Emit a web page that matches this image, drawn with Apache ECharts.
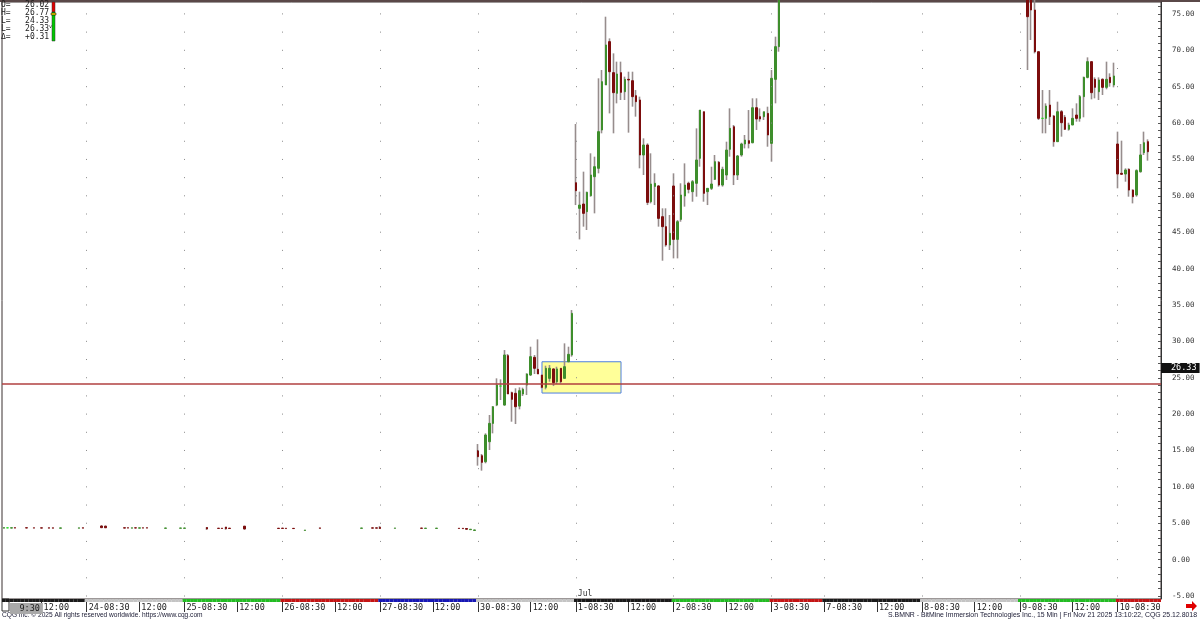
<!DOCTYPE html>
<html><head><meta charset="utf-8">
<script src="https://cdn.jsdelivr.net/npm/echarts@6/dist/echarts.min.js"></script>
<style>html,body{margin:0;padding:0;background:#fff}#c{width:1200px;height:623px}</style>
</head><body><div id="c"></div>
<script>
// ---------- DATA ----------
const dayNames = ['23','24','25','26','27','30','1','2','3','7','8','9','10'];
const dayOpenTimes = ['09:30','08:30','08:30','08:30','08:30','08:30','08:30','08:30','08:30','08:30','08:30','08:30','08:30'];
const dayBandColors = ['#1a1a1a','#c4c4c4','#22bb22','#c41414','#1616b4','#c4c4c4','#1a1a1a','#22bb22','#c41414','#1a1a1a','#c4c4c4','#22bb22','#c41414'];
const noonTime = '12:00';
const monthMark = { day: '1', text: 'Jul' };
const priceTicks = [-5,0,5,10,15,20,25,30,35,40,45,50,55,60,65,70,75];
const priceMin = -5.41, priceMax = 76.65;
const lastPrice = 26.33;
const refLinePrice = 24.2;
const boxFrom = ['30 12:45', 27.2];
const boxTo = ['1 11:30', 22.9];
const trailingSlots = 3;
const legendLines = ['O=   26.02','H=   26.77','L=   24.33','L=   26.33','\u0394=   +0.31'];

// bars: [open, close, low, high]  (null = no trade / off-scale)
const bars23 = [[4.33,4.40,4.32,4.41],[4.37,4.37,4.34,4.40],[4.34,4.38,4.33,4.39],[4.39,4.34,4.33,4.40],[4.36,4.36,4.36,4.36],[4.36,4.36,4.36,4.36],[4.38,4.35,4.34,4.38],[4.36,4.36,4.36,4.36],[4.37,4.34,4.33,4.37],[4.35,4.35,4.35,4.35],[4.37,4.34,4.34,4.38],[4.35,4.35,4.35,4.35],[4.38,4.33,4.32,4.38],[4.37,4.33,4.32,4.38],[4.34,4.34,4.34,4.34],[4.32,4.36,4.32,4.37],[4.35,4.35,4.35,4.35],[4.35,4.35,4.35,4.35],[4.34,4.34,4.34,4.34],[4.34,4.34,4.34,4.34],[4.32,4.37,4.32,4.37],[4.38,4.33,4.33,4.39]];
const bars24 = [[4.35,4.35,4.35,4.35],[4.35,4.35,4.35,4.35],[4.34,4.34,4.34,4.34],null,[4.62,4.40,4.33,4.72],[4.60,4.38,4.35,4.68],null,[4.35,4.35,4.35,4.35],null,null,[4.38,4.34,4.33,4.38],[4.38,4.34,4.34,4.39],[4.33,4.37,4.33,4.38],[4.37,4.35,4.34,4.37],[4.33,4.37,4.32,4.37],[4.37,4.34,4.34,4.38],[4.38,4.34,4.33,4.38],null,[4.35,4.35,4.35,4.35],null,[4.33,4.33,4.33,4.33],[4.31,4.35,4.31,4.36],[4.33,4.33,4.33,4.33],[4.33,4.33,4.33,4.33],[4.33,4.33,4.33,4.33],[4.32,4.35,4.32,4.35]];
const bars25 = [[4.31,4.35,4.31,4.36],null,null,[4.33,4.33,4.33,4.33],null,null,[4.42,4.22,4.10,4.45],null,[4.30,4.30,4.30,4.30],[4.32,4.29,4.28,4.33],[4.33,4.28,4.27,4.33],[4.48,4.25,4.12,4.50],[4.33,4.28,4.27,4.34],null,null,null,[4.60,4.22,4.12,4.64],null,null,null,[4.32,4.32,4.32,4.32],null,[4.32,4.32,4.32,4.32],null,null,[4.32,4.28,4.27,4.33]];
const bars26 = [[4.33,4.29,4.28,4.34],[4.32,4.27,4.26,4.32],[4.28,4.28,4.28,4.28],[4.30,4.27,4.26,4.30],[4.00,4.00,4.00,4.00],null,[4.02,4.07,4.01,4.08],null,null,[4.30,4.30,4.30,4.30],[4.36,4.31,4.30,4.38],[4.33,4.33,4.33,4.33],[4.38,4.38,4.38,4.38],[4.33,4.33,4.33,4.33],[4.33,4.33,4.33,4.33],[4.33,4.33,4.33,4.33],null,null,[4.33,4.33,4.33,4.33],null,[4.33,4.33,4.33,4.33],[4.31,4.35,4.31,4.35],[4.33,4.33,4.33,4.33],null,[4.37,4.33,4.32,4.38],[4.37,4.33,4.32,4.37]];
const bars27 = [[4.45,4.28,4.22,4.60],[4.33,4.33,4.33,4.33],[4.33,4.33,4.33,4.33],[4.34,4.34,4.34,4.34],[4.31,4.35,4.31,4.36],[4.33,4.33,4.33,4.33],[4.33,4.33,4.33,4.33],[4.34,4.34,4.34,4.34],[4.33,4.33,4.33,4.33],null,[4.32,4.32,4.32,4.32],[4.34,4.31,4.30,4.34],[4.29,4.33,4.29,4.33],null,[4.31,4.31,4.31,4.31],[4.29,4.33,4.29,4.34],null,null,[4.31,4.31,4.31,4.31],[4.31,4.31,4.31,4.31],[4.30,4.30,4.30,4.30],[4.32,4.28,4.27,4.32],[4.31,4.26,4.25,4.31],[4.28,4.18,4.12,4.30],[4.12,4.18,4.10,4.19],[4.02,4.08,3.95,4.10]];
const bars30 = [[15.0,14.15,12.92,15.89],[14.29,13.37,12.23,14.52],[13.46,17.13,13.24,17.36],[16.21,18.73,15.07,19.88],[18.73,21.02,17.36,21.1],[21.25,24.0,21.1,24.92],[23.86,23.86,21.94,24.78],[21.25,28.13,21.16,28.81],[28.04,22.77,22.77,28.27],[22.95,22.03,18.96,23.09],[22.86,21.02,18.64,23.55],[21.11,23.22,20.66,23.68],[22.77,23.41,22.49,23.64],[24.0,25.52,22.63,25.61],[25.38,27.9,25.25,29.27],[27.81,26.3,25.52,28.13],[26.16,25.52,25.52,30.28],[25.38,23.68,23.55,25.38],[23.68,26.3,23.41,26.66],[24.92,26.3,24.46,26.75],[26.21,24.33,23.86,26.3],[24.46,26.21,24.14,26.52],[26.3,24.46,24.23,26.3],[24.92,26.52,24.92,29.73],[27.21,28.22,27.12,29.27],[28.13,33.85,27.9,34.31]];
const bars01 = [[51.81,50.71,48.74,59.88],[48.29,48.74,44.02,50.58],[48.88,47.6,45.77,53.33],[47.83,50.49,45.31,50.58],[50.03,52.87,49.89,55.85],[52.64,54.01,47.6,55.39],[53.79,58.83,53.1,66.16],[59.06,65.7,58.6,67.3],[65.24,70.74,65.24,74.63],[71.2,67.07,61.34,71.65],[66.94,64.19,58.6,69.59],[64.1,66.75,62.72,68.45],[66.94,64.23,63.18,68.45],[64.32,66.02,63.18,66.39],[66.02,65.93,58.69,67.07],[65.83,63.64,62.26,67.07],[63.77,62.95,60.89,64.55],[63.18,55.62,53.79,63.64],[55.62,56.99,52.87,57.91],[56.99,49.11,48.74,57.22],[49.2,51.63,48.97,55.85],[51.3,51.73,48.74,53.1],[51.36,46.91,45.77,51.49],[47.14,45.77,41.09,48.29],[45.77,43.25,43.02,48.29],[43.25,44.85,42.56,47.37]];
const bars02 = [[51.36,44.02,41.41,53.1],[44.02,46.45,41.41,46.68],[46.77,50.12,46.45,51.73],[49.98,51.49,48.52,54.47],[51.73,50.9,50.35,51.95],[50.58,51.95,49.2,52.18],[51.73,54.93,49.89,59.28],[55.16,61.8,54.01,61.8],[61.57,50.35,49.2,61.57],[50.58,51.04,48.74,51.04],[51.04,51.63,50.81,54.01],[52.27,54.7,52.18,55.62],[54.61,51.49,51.27,54.79],[51.49,53.65,51.27,54.01],[52.87,56.3,52.18,57.45],[56.4,59.28,55.39,62.03],[59.51,52.87,51.49,59.74],[52.87,55.48,52.18,55.62],[55.62,57.13,55.39,57.31],[57.13,57.68,56.53,58.37],[57.59,57.22,56.53,61.8],[57.31,62.12,57.22,63.41],[62.12,60.57,59.06,63.41],[60.89,60.57,60.2,62.03],[60.89,61.57,60.43,61.57],[61.34,58.37,56.76,62.26]];
const bars03 = [[57.22,66.16,54.7,67.3],[66.02,70.51,62.72,71.88],[70.51,84.0,69.82,88.0],null,null,null,null,null,null,null,null,null,null,null];
const bars07 = [null,null,null,null,null,null,null,null,null,null,null,null,null,null,null,null,null,null,null,null,null,null,null,null,null,null];
const bars08 = [null,null,null,null,null,null,null,null,null,null,null,null,null,null,null,null,null,null,null,null,null,null,null,null,null,null];
const bars09 = [null,null,[78.5,74.63,67.3,80.0],[77.5,75.55,71.43,78.5],[75.55,69.82,69.59,77.2],[69.82,60.66,60.43,69.82],[60.66,60.66,58.6,64.55],[60.66,62.35,58.6,62.72],[62.49,60.89,59.74,64.55],[60.98,57.45,56.76,61.11],[57.45,61.57,57.45,62.95],[61.57,60.06,58.14,61.8],[60.8,59.15,59.06,61.11],[59.15,59.74,58.97,60.06],[59.74,60.66,59.74,62.03],[61.11,60.66,60.2,62.72],[60.66,63.64,60.2,63.87],[63.64,66.29,60.8,66.39],[66.29,68.45,66.16,69.04],[68.45,64.19,63.27,68.45],[66.02,64.92,63.41,66.29],[64.32,65.93,63.18,66.29],[66.02,64.92,63.87,66.16],[64.92,66.02,64.65,68.45],[66.29,65.56,65.01,66.84],[65.24,66.48,64.92,68.31]];
const bars10 = [[57.13,53.01,51.04,58.83],[53.1,52.97,52.9,57.59],[53.01,53.56,51.95,53.79],[53.65,50.8,49.89,53.79],[50.8,49.89,48.97,50.9],[50.12,53.47,49.89,53.65],[53.33,55.62,53.19,57.13],[55.94,57.31,55.62,58.83],[57.45,56.07,54.84,57.77]];
const dayBars = [bars23,bars24,bars25,bars26,bars27,bars30,bars01,bars02,bars03,bars07,bars08,bars09,bars10];

// ---------- BUILD ----------
function hm(t){const h=Math.floor(t/60),m=t%60;return (h<10?'0':'')+h+':'+(m<10?'0':'')+m;}
const cats=[], bars=[], bandColor=[], labelAt={}, dayStartCats=[];
let monthIdx=-1;
dayNames.forEach((d,k)=>{
  const p=dayOpenTimes[k].split(':'); const start=(+p[0])*60+(+p[1]);
  dayBars[k].forEach((b,j)=>{
    const t=start+15*j, idx=cats.length, name=d+' '+hm(t);
    cats.push(name); bars.push(b); bandColor.push(dayBandColors[k]);
    if(j===0){ labelAt[idx]= k===0 ? 'FIRST' : d+'-08:30'; if(k>0) dayStartCats.push(name); if(d===monthMark.day) monthIdx=idx; }
    else if(hm(t)===noonTime){ labelAt[idx]=noonTime; }
  });
});
for(let e=0;e<trailingSlots;e++){cats.push('~'+e); bars.push(null); bandColor.push(dayBandColors[dayBandColors.length-1]);}

const wickData = bars.map(b=> b? b.slice() : ['-','-','-','-']);
const bodyData = bars.map(b=>{
  if(!b) return ['-','-','-','-'];
  if(b[0]===b[1] && b[2]===b[3] && b[0]===b[2]) return ['-','-','-','-'];
  return [b[0],b[1],Math.min(b[0],b[1]),Math.max(b[0],b[1])];
});
const minorTicks=[]; for(let v=Math.ceil(priceMin); v<=priceMax; v+=1) minorTicks.push(v);

const UP='#3e8e2c', DOWN='#7c0d0d', WICK='#978d8d';
const mono='DejaVu Sans Mono';
const firstLabel = dayOpenTimes[0].replace(/^0/,'');

const chart = echarts.init(document.getElementById('c'), null, {renderer:'canvas'});
chart.setOption({
  animation:false,
  backgroundColor:'#ffffff',
  grid:[
    {left:2,right:39,top:2,bottom:24,show:true,borderColor:'#3a3030',borderWidth:1,backgroundColor:'transparent',containLabel:false,outerBoundsMode:'none'},
    {left:2,right:39,top:599,height:3,containLabel:false,outerBoundsMode:'none'}
  ],
  xAxis:[
    {type:'category',gridIndex:0,data:cats,boundaryGap:true,show:false},
    {type:'category',gridIndex:1,data:cats,boundaryGap:true,position:'bottom',
      axisLine:{show:false},splitLine:{show:false},
      axisTick:{show:true,alignWithLabel:true,length:10,interval:(i)=>labelAt[i]!==undefined && labelAt[i]!=='FIRST',lineStyle:{color:'#333',width:1}},
      axisLabel:{show:true,showMinLabel:true,hideOverlap:false,interval:(i)=>labelAt[i]!==undefined,align:'left',margin:1,
        fontFamily:mono,fontSize:8.5,color:'#222',padding:[0,0,0,2],
        formatter:(v,i)=> labelAt[i]==='FIRST' ? '{sp|\u00a0}{box|'+firstLabel+'}' : labelAt[i],
        rich:{sp:{width:4,fontFamily:mono,fontSize:8.5},box:{backgroundColor:'#a9a9a9',width:30,align:'right',padding:[1,3,1,0],fontFamily:mono,fontSize:8.5,color:'#222'}}}
    },
    {type:'category',gridIndex:1,data:cats,boundaryGap:true,position:'top',
      axisLine:{show:false},axisTick:{show:false},splitLine:{show:false},
      axisLabel:{show:true,interval:(i)=>i===monthIdx,formatter:()=>monthMark.text,align:'left',margin:1,fontFamily:mono,fontSize:8,color:'#333',padding:[0,0,0,2]}
    }
  ],
  yAxis:[
    {type:'value',gridIndex:0,position:'right',min:priceMin,max:priceMax,
      axisLine:{show:true,lineStyle:{color:'#333',width:1}},
      axisTick:{show:true,inside:true,length:3,customValues:minorTicks,lineStyle:{color:'#555'}},
      axisLabel:{show:true,customValues:priceTicks,formatter:(v)=>v.toFixed(2),fontFamily:mono,fontSize:7.5,color:'#333',margin:11},
      splitLine:{show:false}},
    {type:'value',gridIndex:1,min:0,max:1,show:false}
  ],
  series:[
    {type:'candlestick',name:'wick',xAxisIndex:0,yAxisIndex:0,data:wickData,barWidth:1,clip:true,silent:true,z:2,
      itemStyle:{color:WICK,color0:WICK,borderColor:WICK,borderColor0:WICK,borderColorDoji:WICK,borderWidth:1.6},
      markArea:{silent:true,z:1,itemStyle:{color:'#ffff99',borderColor:'#4d7fe0',borderWidth:1},label:{show:false},
        data:[[{xAxis:boxFrom[0],yAxis:boxFrom[1]},{xAxis:boxTo[0],yAxis:boxTo[1]}]]},
      markLine:{silent:true,symbol:['none','none'],label:{show:false},
        lineStyle:{color:'#8a8a8a',width:1,type:[1,17.19],dashOffset:15.69},
        data:dayStartCats.map(c=>({xAxis:c}))}
    },
    {type:'candlestick',name:'body',xAxisIndex:0,yAxisIndex:0,data:bodyData,barWidth:2,clip:true,silent:true,z:3,
      itemStyle:{color:UP,color0:DOWN,borderColor:UP,borderColor0:DOWN,borderColorDoji:'#22e022',borderWidth:1}
    },
    {type:'line',name:'levels',xAxisIndex:0,yAxisIndex:0,data:[],clip:false,silent:true,z:4,
      markLine:{silent:true,symbol:['none','none'],
        data:[
          {yAxis:refLinePrice,lineStyle:{color:'#b04040',width:1.5,type:'solid',opacity:1},label:{show:false}},
          {yAxis:lastPrice,lineStyle:{color:'rgba(0,0,0,0)',width:1,opacity:1},label:{show:true,opacity:1,position:'end',distance:0,formatter:lastPrice.toFixed(2),
            backgroundColor:'#111',color:'#fff',fontFamily:mono,fontSize:8.5,padding:[1,3,0,10]}}
        ]}
    },
    {type:'bar',name:'band',xAxisIndex:1,yAxisIndex:1,silent:true,barWidth:'100%',barCategoryGap:'0%',
      data:bandColor.map(c=>({value:1,itemStyle:{color:c}}))}
  ],
  graphic:{elements:[
    {type:'rect',left:0,top:0,shape:{width:1200,height:2},style:{fill:'#5a4848'}},
    {type:'text',left:1,top:1,style:{text:legendLines.join('\n'),font:'8px '+mono,fill:'#222',lineHeight:8}},
    {type:'text',left:49,top:24,style:{text:'v',font:'5px '+mono,fill:'#222'}},
    {type:'rect',shape:{x:52,y:2,width:3,height:10},style:{fill:'#e00000',stroke:'#333',lineWidth:0.5}},
    {type:'rect',shape:{x:52,y:12,width:3,height:29},style:{fill:'#00c800',stroke:'#333',lineWidth:0.5}},
    {type:'rect',shape:{x:51,y:13,width:5,height:2},style:{fill:'#ffd800',stroke:'#000',lineWidth:0.5}},
    {type:'rect',shape:{x:2,y:599,width:7,height:12},style:{fill:'#fff',stroke:'#333',lineWidth:1}},
    {type:'text',left:2,top:612,style:{text:'CQG Inc. \u00a9 2025 All rights reserved worldwide. https://www.cqg.com',font:'6.6px Liberation Sans',fill:'#1a1a33'}},
    {type:'text',right:3,top:612,style:{text:'S.BMNR - BitMine Immersion Technologies Inc., 15 Min | Fri Nov 21 2025 13:10:22, CQG 25.12.8018',font:'6.9px Liberation Sans',fill:'#1a1a33'}},
    {type:'polygon',shape:{points:[[1186,604],[1192,604],[1192,601],[1197,606],[1192,611],[1192,608],[1186,608]]},style:{fill:'#e00000'}}
  ]}
});
</script></body></html>
